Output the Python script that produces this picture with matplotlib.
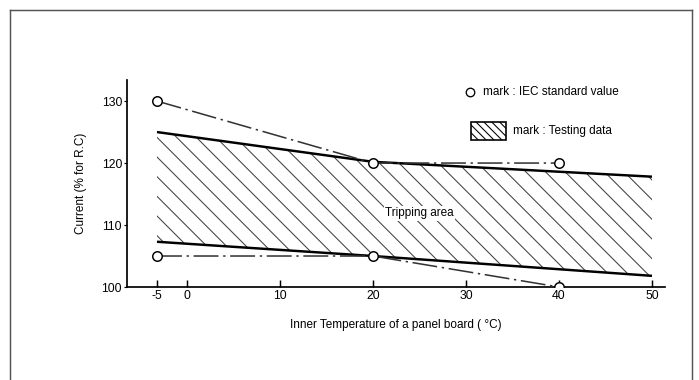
import matplotlib
matplotlib.use("Agg")
import matplotlib.pyplot as plt
from matplotlib.patches import Rectangle
from matplotlib.lines import Line2D
import numpy as np

# --- data ---
iec_temp = [-5, 20, 40]
iec_upper = [130, 120, 120]
iec_lower = [105, 105, 100]

band_temp = [-5, 20, 50]
band_upper = [125, 120.2, 117.8]
band_lower = [107.3, 105.0, 101.8]

x_ticks = [-5, 0, 10, 20, 30, 40, 50]
y_ticks = [100, 110, 120, 130]

plt.rcParams['font.family'] = ['Liberation Sans', 'DejaVu Sans']
plt.rcParams['hatch.linewidth'] = 0.65
plt.rcParams['hatch.color'] = '#444444'

DPI = 118
fs = 7.2
fig = plt.figure(figsize=(699 / DPI, 380 / DPI), dpi=DPI)
ax = fig.add_axes([127 / 699, 1 - 287 / 380, 538 / 699, 207 / 380])

# the -5 tick sits closer to 0 than the rest of the axis
k = 0.645
def fwd(x):
    x = np.asarray(x, dtype=float)
    return np.where(x < 0, x * k, x)
def inv(x):
    x = np.asarray(x, dtype=float)
    return np.where(x < 0, x / k, x)
ax.set_xscale('function', functions=(fwd, inv))

# tripping area (testing data)
ax.fill_between(band_temp, band_lower, band_upper, facecolor='none',
                edgecolor='#444444', linewidth=0, hatch='\\\\')
ax.plot(band_temp, band_upper, color='black', lw=1.5, solid_capstyle='butt')
ax.plot(band_temp, band_lower, color='black', lw=1.5, solid_capstyle='butt')

# IEC standard values
dash = (0, (16, 3, 1.5, 3))
for vals in (iec_upper, iec_lower):
    ax.plot(iec_temp, vals, color='#333333', lw=0.95, linestyle=dash,
            marker='o', ms=5.8, mfc='white', mec='black', mew=0.9, zorder=4)

ax.text(21.3, 111.9, "Tripping area", fontsize=fs, ha='left', va='center',
        bbox=dict(fc='white', ec='none', pad=0.8))

# legend drawn by hand
ax.add_line(Line2D([0.6375], [0.942], transform=ax.transAxes, marker='o', ms=5.2,
                   mfc='white', mec='black', mew=0.8, clip_on=False))
ax.text(0.662, 0.942, "mark : IEC standard value", transform=ax.transAxes,
        fontsize=fs, va='center')
ax.add_patch(Rectangle((0.639, 0.71), 0.065, 0.087, transform=ax.transAxes,
                       facecolor='white', edgecolor='black', lw=1.0, hatch='\\\\\\\\\\',
                       clip_on=False))
ax.text(0.7175, 0.754, "mark : Testing data", transform=ax.transAxes,
        fontsize=fs, va='center')

ax.set_xlim(-10, 51.4)
ax.set_ylim(100, 133.4)
ax.set_xticks(x_ticks)
ax.set_xticklabels([str(t) for t in x_ticks])
ax.set_yticks(y_ticks)
ax.tick_params(axis='x', direction='in', length=4.5, width=0.9, labelsize=7.5, pad=2)
ax.tick_params(axis='y', direction='out', length=2, width=0.7, labelsize=7.5, pad=1)
for s in ('top', 'right'):
    ax.spines[s].set_visible(False)
for s in ('left', 'bottom'):
    ax.spines[s].set_linewidth(1.05)

ax.set_xlabel("Inner Temperature of a panel board ( \u00b0C)", fontsize=fs, labelpad=10)
ax.set_ylabel("Current (% for R.C)", fontsize=fs, labelpad=9)

# outer frame of the picture
frame = dict(color='#555555', lw=0.9, transform=fig.transFigure)
x0, x1, y1 = 10 / 699, 692 / 699, 1 - 10 / 380
fig.add_artist(Line2D([x0, x0], [0, y1], **frame))
fig.add_artist(Line2D([x0, x1], [y1, y1], **frame))
fig.add_artist(Line2D([x1, x1], [y1, 0], **frame))

fig.savefig("out.png", dpi=DPI)
